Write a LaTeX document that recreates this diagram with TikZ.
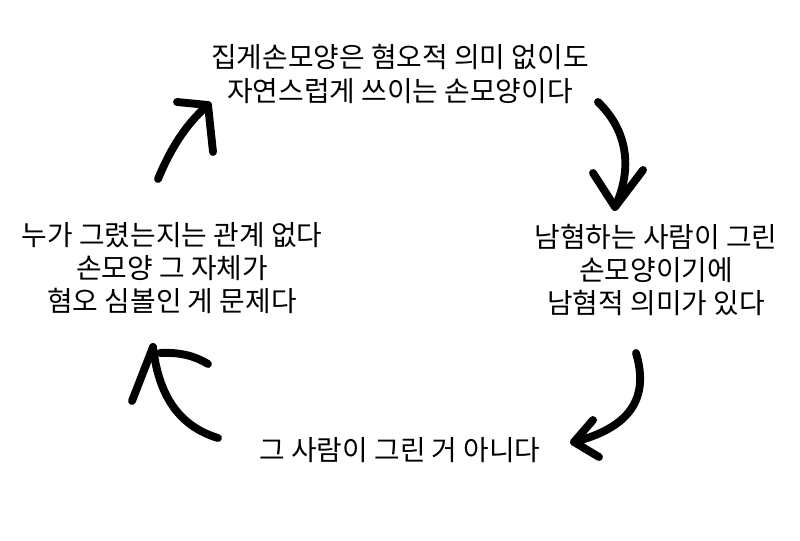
\documentclass[tikz,border=0pt]{standalone}
\usepackage{fontspec}
\setmainfont{Noto Sans CJK KR}
\usetikzlibrary{positioning}

\begin{document}
\begin{tikzpicture}[x=0.025cm,y=-0.025cm,
        claim/.style={align=center,inner sep=0pt,font=\fontsize{19.8}{23.6}\selectfont},
        stroke/.style={line width=5.6pt,line cap=round,line join=round}]
        \useasboundingbox (0,0) rectangle (800,540);

        \node[claim] (t) at (400,74) {집게손모양은 혐오적 의미 없이도\\자연스럽게 쓰이는 손모양이다};
        \node[claim] (r) at (656,270) {남혐하는 사람이 그린\\손모양이기에\\남혐적 의미가 있다};
        \node[claim] (b) at (400,450) {그 사람이 그린 거 아니다};
        \node[claim] (l) at (172,268) {누가 그렸는지는 관계 없다\\손모양 그 자체가\\혐오 심볼인 게 문제다};

        \coordinate (tr1) at (598,102);
        \coordinate (tr2) at (615,207);
        \coordinate (rb1) at (636,353);
        \coordinate (rb2) at (574,442);
        \coordinate (bl1) at (218,438);
        \coordinate (bl2) at (153,347);
        \coordinate (lt1) at (158,179);
        \coordinate (lt2) at (208,105);

        \draw[stroke] (tr1) .. controls (632,135) and (630,175) .. (tr2);
        \draw[stroke] (593,173) -- (tr2) -- (643,170);

        \draw[stroke] (rb1) .. controls (650,400) and (628,428) .. (rb2);
        \draw[stroke] (593,420) -- (rb2) -- (599,457);

        \draw[stroke] (bl1) .. controls (175,425) and (158,390) .. (bl2);
        \draw[stroke] (132,401) -- (bl2);
        \draw[stroke] (160,353) .. controls (180,352) and (195,356) .. (208,364);

        \draw[stroke] (lt1) .. controls (170,150) and (185,125) .. (lt2);
        \draw[stroke] (177,102) -- (lt2) -- (213,152);
    \end{tikzpicture}
\end{document}
